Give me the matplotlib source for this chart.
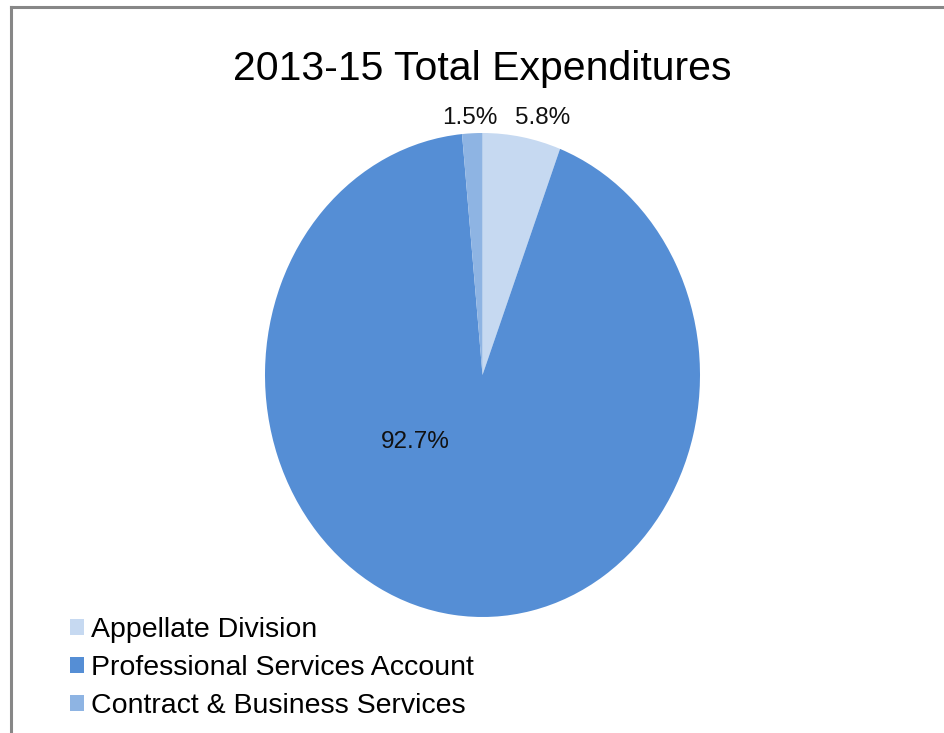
import matplotlib.pyplot as plt
from matplotlib.patches import Patch
from matplotlib.lines import Line2D

plt.rcParams['font.family'] = ['Liberation Sans', 'DejaVu Sans']

title = '2013-15 Total Expenditures'
categories = ['Appellate Division', 'Professional Services Account', 'Contract & Business Services']
shares = [5.8, 92.7, 1.5]
colors = ['#c6d9f1', '#558ed5', '#8eb4e3']

W, H = 944, 733
fig = plt.figure(figsize=(W / 100, H / 100), dpi=100)

# pie axes stretched a bit taller than wide
ax = fig.add_axes([265 / W, 1 - 617 / H, 435 / W, 484 / H])
wedges, _ = ax.pie(shares, colors=colors, startangle=90, counterclock=False,
                   radius=1, wedgeprops=dict(linewidth=0))
ax.set_aspect('auto')
ax.set_xlim(-1, 1)
ax.set_ylim(-1, 1)
ax.axis('off')

# percentage labels
label_pos = [(0.278, 1.062), (-0.31, -0.277), (-0.057, 1.062)]
for val, (x, y) in zip(shares, label_pos):
    ax.text(x, y, f'{val:.1f}%', ha='center', va='center', fontsize=17.5, color='#111111')

fig.text(482 / W, 1 - 69 / H, title, ha='center', va='center', fontsize=29.5)

handles = [Patch(facecolor=c, edgecolor='none') for c in colors]
fig.legend(handles, categories, loc='upper left', bbox_to_anchor=(70 / W, 1 - 617 / H),
           frameon=False, fontsize=20.5, handlelength=0.5, handleheight=0.5,
           handletextpad=0.25, labelspacing=0.42, borderpad=0, borderaxespad=0)

# outer frame (top and left edges)
fig.add_artist(Line2D([11 / W, 1.0], [1 - 7 / H, 1 - 7 / H], transform=fig.transFigure,
                      color='#878787', linewidth=2.2))
fig.add_artist(Line2D([11 / W, 11 / W], [0.0, 1 - 7 / H], transform=fig.transFigure,
                      color='#878787', linewidth=2.2))

fig.savefig('out.png', dpi=100)
